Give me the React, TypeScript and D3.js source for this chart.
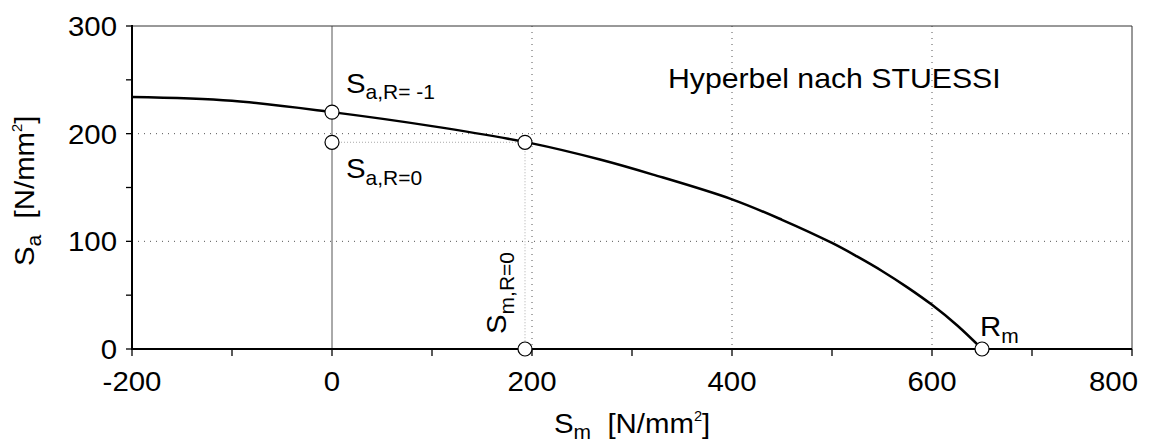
import React from "react";
import * as d3 from "d3";

// Curve: Stuessi hyperbola
const curveSm = [-200, -100, 0, 100, 200, 268, 321, 400, 450, 500, 525, 550, 575, 600, 625, 650];
const curveSa = [234, 230.5, 220, 207, 191, 176, 162, 139, 120, 98.5, 86, 72.5, 57.5, 41, 22, 0];

// Marked points
const pointSm = [0, 0, 193, 193, 650];
const pointSa = [220, 192, 192, 0, 0];

// Axis ticks
const xTicks = [-200, -100, 0, 100, 200, 300, 400, 500, 600, 700, 800];
const xTickLabels = [-200, 0, 200, 400, 600, 800];
const yTicks = [0, 50, 100, 150, 200, 250, 300];
const yTickLabels = [0, 100, 200, 300];
const xGrid = [200, 400, 600];
const yGrid = [100, 200];

const W = 1152;
const H = 443;
const L = 132;
const R = 1132;
const T = 26;
const B = 349;
const FONT = "'Liberation Sans', Arial, Helvetica, sans-serif";
const SX = 1.05;
const FS = 28;
const FSUB = 20;

const x = d3.scaleLinear().domain([-200, 800]).range([L, R]);
const y = d3.scaleLinear().domain([0, 300]).range([B, T]);

const tr = (px: number, py: number, rot = 0, sx = SX) =>
  `translate(${px},${py})${rot ? ` rotate(${rot})` : ""} scale(${sx},1)`;

export default function App() {
  const curveData = curveSm.map((s, i) => [s, curveSa[i]] as [number, number]);
  const line = d3
    .line<[number, number]>()
    .x((d) => x(d[0]))
    .y((d) => y(d[1]))
    .curve(d3.curveCatmullRom.alpha(0.5));

  const sm0 = pointSm[2];
  const sa0 = pointSa[2];
  const last = xTickLabels[xTickLabels.length - 1];

  return (
    <svg
      width={W}
      height={H}
      style={{ position: "absolute", left: 0, top: 0, background: "#fff" }}
      fontFamily={FONT}
    >
      <rect x={0} y={0} width={W} height={H} fill="#fff" />
      {/* grid */}
      {xGrid.map((g) => (
        <line key={"gx" + g} x1={x(g)} x2={x(g)} y1={T} y2={B} stroke="#555" strokeWidth={1} strokeDasharray="1,5" />
      ))}
      {yGrid.map((g) => (
        <line key={"gy" + g} x1={L} x2={R} y1={y(g)} y2={y(g)} stroke="#555" strokeWidth={1} strokeDasharray="1,5" />
      ))}
      {/* zero line */}
      <line x1={x(0)} x2={x(0)} y1={T} y2={B} stroke="#555" strokeWidth={1} />
      {/* helper dotted lines */}
      <line x1={x(0)} x2={x(sm0)} y1={y(sa0)} y2={y(sa0)} stroke="#aaa" strokeWidth={1} strokeDasharray="1,2" />
      <line x1={x(sm0)} x2={x(sm0)} y1={y(sa0)} y2={y(0)} stroke="#aaa" strokeWidth={1} strokeDasharray="1,2" />
      {/* frame */}
      <line x1={L} x2={R} y1={T} y2={T} stroke="#333" strokeWidth={1} />
      <line x1={R} x2={R} y1={T} y2={B} stroke="#333" strokeWidth={1} />
      {/* curve */}
      <path d={line(curveData) || ""} fill="none" stroke="#000" strokeWidth={2.5} />
      {/* axes */}
      <line x1={L} x2={L} y1={T - 1} y2={B + 1} stroke="#000" strokeWidth={2} />
      <line x1={L - 1} x2={R} y1={B} y2={B} stroke="#000" strokeWidth={2} />
      {yTicks.map((t) => (
        <line key={"yt" + t} x1={L - 6} x2={L} y1={y(t)} y2={y(t)} stroke="#000" strokeWidth={1.3} />
      ))}
      {xTicks.map((t) => (
        <line key={"xt" + t} x1={x(t)} x2={x(t)} y1={B} y2={B + 7} stroke="#000" strokeWidth={1.3} />
      ))}
      {yTickLabels.map((t) => (
        <text key={"yl" + t} transform={tr(L - 15, y(t) + 10)} textAnchor="end" fontSize={FS} fill="#000">
          {t}
        </text>
      ))}
      {xTickLabels.map((t) => (
        <text
          key={"xl" + t}
          transform={tr(t === last ? W - 14 : x(t), 391)}
          textAnchor={t === last ? "end" : "middle"}
          fontSize={FS}
          fill="#000"
        >
          {t}
        </text>
      ))}
      {/* points */}
      {pointSm.map((s, i) => (
        <circle key={"p" + i} cx={x(s)} cy={y(pointSa[i])} r={7} fill="#fff" stroke="#000" strokeWidth={1.2} />
      ))}
      {/* annotations */}
      <text transform={tr(346, 93)} fontSize={FS} fill="#000">
        S<tspan fontSize={FSUB} dy={6}>a,R=  -1</tspan>
      </text>
      <text transform={tr(346, 178)} fontSize={FS} fill="#000">
        S<tspan fontSize={FSUB} dy={7}>a,R=0</tspan>
      </text>
      <text transform={tr(506, 334, -90)} fontSize={FS} fill="#000">
        S<tspan fontSize={FSUB} dy={8}>m,R=0</tspan>
      </text>
      <text transform={tr(980, 336)} fontSize={FS} fill="#000">
        R<tspan fontSize={FSUB} dy={7}>m</tspan>
      </text>
      <text transform={tr(668, 88, 0, 1.08)} fontSize={FS} fill="#000">
        Hyperbel nach STUESSI
      </text>
      {/* axis titles */}
      <text transform={tr(554, 433)} fontSize={FS} fill="#000">
        S<tspan fontSize={FSUB} dy={6}>m</tspan>
        <tspan dy={-6}>{"\u00a0\u00a0[N/mm"}</tspan>
        <tspan fontSize={14} dy={-12}>2</tspan>
        <tspan dy={12}>]</tspan>
      </text>
      <text transform={tr(34, 266, -90)} fontSize={FS} fill="#000">
        S<tspan fontSize={FSUB} dy={7}>a</tspan>
        <tspan dy={-7}>{"\u00a0\u00a0[N/mm"}</tspan>
        <tspan fontSize={14} dy={-12}>2</tspan>
        <tspan dy={12}>]</tspan>
      </text>
    </svg>
  );
}
